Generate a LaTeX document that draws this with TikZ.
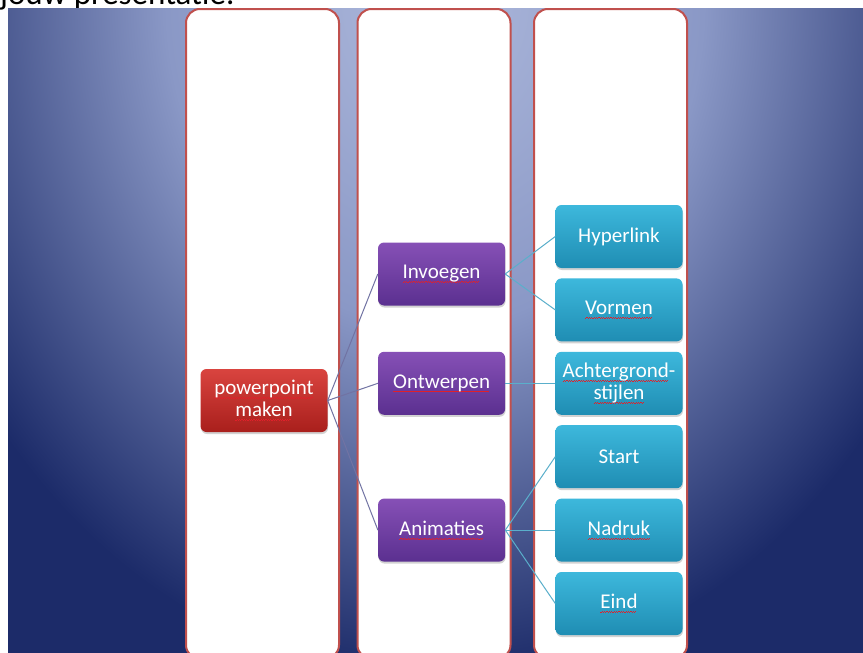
\documentclass[tikz,border=0pt]{standalone}
\usepackage{fontspec}
\setmainfont{Carlito}
\usepackage{tikz}
\usetikzlibrary{positioning,shadows}

\definecolor{bglight}{HTML}{AEB9DC}
\definecolor{bgmid}{HTML}{8A98C6}
\definecolor{bgdark}{HTML}{1C2B69}
\definecolor{colline}{HTML}{C0504D}
\definecolor{rootTop}{HTML}{D9443F}
\definecolor{rootBot}{HTML}{A91F1C}
\definecolor{midTop}{HTML}{8650B6}
\definecolor{midBot}{HTML}{5B3090}
\definecolor{leafTop}{HTML}{3DB8DC}
\definecolor{leafBot}{HTML}{1F8DB3}
\definecolor{linkA}{HTML}{7173A3}
\definecolor{linkB}{HTML}{5AAFCB}
\definecolor{spellred}{HTML}{E0202A}

\pgfdeclareradialshading{slidebg}{\pgfpoint{0bp}{0bp}}{color(0bp)=(bglight); color(12bp)=(bgmid); color(25bp)=(bgdark); color(50bp)=(bgdark)}

% red wavy spell-check line under a word
\newlength{\spellw}
\newcommand{\spell}[1]{\leavevmode\settowidth{\spellw}{#1}\rlap{\textcolor{spellred}{\leaders\hbox{\rule[-4pt]{1.2pt}{0.7pt}\rule[-3.2pt]{1.2pt}{0.7pt}}\hskip\spellw}}#1}

\begin{document}
\begin{tikzpicture}[
    x=1pt, y=-1pt,
    node distance=10pt,
    column/.style={draw=colline, line width=2pt, fill=white, rounded corners=14pt, minimum width=153pt, minimum height=650pt, inner sep=0pt},
    box/.style={rounded corners=6pt, minimum width=127pt, minimum height=63pt, align=center, text=white, inner sep=2pt, font=\fontsize{21}{22}\selectfont, drop shadow={shadow xshift=0.5pt, shadow yshift=-2pt, opacity=0.35}},
    root/.style={box, top color=rootTop, bottom color=rootBot},
    topic/.style={box, top color=midTop, bottom color=midBot},
    leaf/.style={box, top color=leafTop, bottom color=leafBot},
    link/.style={linkA, line width=1pt},
    sublink/.style={linkB, line width=1pt}
]
\useasboundingbox (0,0) rectangle (863,653);
\fill[white] (0,0) rectangle (863,653);
\node[anchor=base west, inner sep=0pt, font=\fontsize{33}{36}\selectfont] (title) at (0,5) {jouw presentatie.};

\begin{scope}
\clip (8,8) rectangle (863,653);
\fill[bgdark] (8,8) rectangle (863,653);
\shade[shading=slidebg] (435,0) ellipse [x radius=560pt, y radius=680pt];
\node[column] (col1) at (262.5,334) {};
\node[column] (col2) at (434,334) {};
\node[column] (col3) at (610.5,334) {};
\end{scope}

\node[root] (pp) at (264,400.5) {\spell{powerpoint}\\\spell{maken}};

\node[leaf] (hyper) at (619,236.5) {Hyperlink};
\node[leaf, below=of hyper] (vorm) {\spell{Vormen}};
\node[leaf, below=of vorm] (achter) {\spell{Achtergrond}-\\\spell{stijlen}};
\node[leaf, below=of achter] (start) {Start};
\node[leaf, below=of start] (nadruk) {\spell{Nadruk}};
\node[leaf, below=of nadruk] (eind) {\spell{Eind}};

\node[topic] (inv) at (441.5,274) {\spell{Invoegen}};
\node[topic, left=50pt of achter] (ontw) {\spell{Ontwerpen}};
\node[topic, left=50pt of nadruk] (anim) {\spell{Animaties}};

\draw[link] (pp.east) -- (inv.west);
\draw[link] (pp.east) -- (ontw.west);
\draw[link] (pp.east) -- (anim.west);

\draw[sublink] (inv.east) -- (hyper.west);
\draw[sublink] (inv.east) -- (vorm.west);
\draw[sublink] (ontw.east) -- (achter.west);
\draw[sublink] (anim.east) -- (start.west);
\draw[sublink] (anim.east) -- (nadruk.west);
\draw[sublink] (anim.east) -- (eind.west);
\end{tikzpicture}
\end{document}
